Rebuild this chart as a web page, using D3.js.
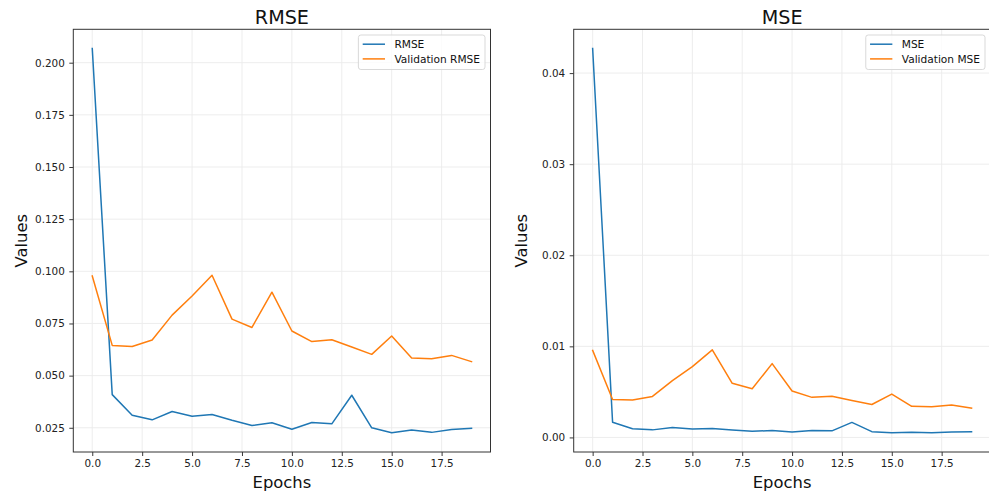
<!DOCTYPE html>
<html>
<head>
<meta charset="utf-8">
<script src="https://cdn.jsdelivr.net/npm/d3@7"></script>
<style>
  html, body { margin: 0; padding: 0; background: #fff; overflow: hidden; }
  svg { display: block; font-family: "DejaVu Sans", sans-serif; }
</style>
</head>
<body>
<svg id="chart" width="989" height="492"></svg>
<script>
const epochs = d3.range(0, 20);

const rmse = [0.2068, 0.0409, 0.0310, 0.0288, 0.0328, 0.0305, 0.0314, 0.0286, 0.0261, 0.0274,
              0.0243, 0.0275, 0.0269, 0.0406, 0.0250, 0.0226, 0.0239, 0.0228, 0.0242, 0.0247];
const valRmse = [0.0978, 0.0645, 0.0640, 0.0671, 0.0790, 0.0882, 0.0981, 0.0771, 0.0731, 0.0900,
                 0.0714, 0.0663, 0.0672, 0.0637, 0.0602, 0.0690, 0.0585, 0.0581, 0.0597, 0.0567];
const mse = [0.0427, 0.00167, 0.00096, 0.00083, 0.00108, 0.00093, 0.00099, 0.00082, 0.00068, 0.00075,
             0.00059, 0.00076, 0.00072, 0.00165, 0.00063, 0.00051, 0.00057, 0.00052, 0.00059, 0.00061];
const valMse = [0.00956, 0.00416, 0.00410, 0.00450, 0.00624, 0.00778, 0.00962, 0.00594, 0.00534, 0.00810,
                0.00510, 0.00440, 0.00452, 0.00406, 0.00362, 0.00476, 0.00342, 0.00338, 0.00356, 0.00321];

const xTicks = [0, 2.5, 5, 7.5, 10, 12.5, 15, 17.5];
const rmseTicks = [0.025, 0.050, 0.075, 0.100, 0.125, 0.150, 0.175, 0.200];
const mseTicks = [0.00, 0.01, 0.02, 0.03, 0.04];

const panels = [
  { title: "RMSE", train: rmse, val: valRmse, labels: ["RMSE", "Validation RMSE"],
    yTicks: rmseTicks, yFmt: ".3f",
    left: 73.3, right: 490.5 },
  { title: "MSE", train: mse, val: valMse, labels: ["MSE", "Validation MSE"],
    yTicks: mseTicks, yFmt: ".2f",
    left: 573.7, right: 990.5 }
];

const colors = ["#1f77b4", "#ff7f0e"];
const plotTop = 29.3, plotBottom = 452;
const svg = d3.select("#chart");

panels.forEach(p => {
  const all = p.train.concat(p.val);
  const mn = d3.min(all), mx = d3.max(all);
  const pad = (mx - mn) * 0.05;
  const y = d3.scaleLinear().domain([mn - pad, mx + pad]).range([plotBottom, plotTop]);
  const x = d3.scaleLinear().domain([-0.95, 19.95]).range([p.left, p.right]);

  const g = svg.append("g");

  // grid
  g.append("g").selectAll("line").data(xTicks).join("line")
    .attr("x1", d => x(d)).attr("x2", d => x(d))
    .attr("y1", plotTop).attr("y2", plotBottom)
    .attr("stroke", "#ebebeb").attr("stroke-width", 0.9);
  g.append("g").selectAll("line").data(p.yTicks).join("line")
    .attr("x1", p.left).attr("x2", p.right)
    .attr("y1", d => y(d)).attr("y2", d => y(d))
    .attr("stroke", "#ebebeb").attr("stroke-width", 0.9);

  // lines
  const line = d3.line().x((d, i) => x(epochs[i])).y(d => y(d));
  [p.train, p.val].forEach((s, k) => {
    g.append("path").datum(s)
      .attr("d", line)
      .attr("fill", "none")
      .attr("stroke", colors[k])
      .attr("stroke-width", 1.5)
      .attr("stroke-linejoin", "round")
      .attr("stroke-linecap", "square");
  });

  // axes
  const xAxis = d3.axisBottom(x).tickValues(xTicks).tickFormat(d3.format(".1f"))
    .tickSize(4).tickPadding(4);
  const yAxis = d3.axisLeft(y).tickValues(p.yTicks).tickFormat(d3.format(p.yFmt))
    .tickSize(4).tickPadding(4.5);

  const gx = g.append("g").attr("transform", `translate(0,${plotBottom})`).call(xAxis);
  const gy = g.append("g").attr("transform", `translate(${p.left},0)`).call(yAxis);
  [gx, gy].forEach(a => {
    a.select(".domain").remove();
    a.selectAll(".tick line").attr("stroke", "#222").attr("stroke-width", 0.9);
    a.selectAll(".tick text").attr("fill", "#222").style("font-size", "10.4px")
      .style("font-family", "DejaVu Sans, sans-serif");
  });

  // spines
  g.append("rect")
    .attr("x", p.left).attr("y", plotTop)
    .attr("width", p.right - p.left).attr("height", plotBottom - plotTop)
    .attr("fill", "none").attr("stroke", "#333").attr("stroke-width", 1);

  // title & labels
  g.append("text").attr("x", (p.left + p.right) / 2).attr("y", 24)
    .attr("text-anchor", "middle").style("font-size", "19.2px").attr("fill", "#111")
    .text(p.title);
  g.append("text").attr("x", (p.left + p.right) / 2).attr("y", 487.5)
    .attr("text-anchor", "middle").style("font-size", "16.4px").attr("fill", "#111")
    .text("Epochs");
  g.append("text")
    .attr("transform", `translate(${p.left - 46.5},${(plotTop + plotBottom) / 2}) rotate(-90)`)
    .attr("text-anchor", "middle").style("font-size", "16.4px").attr("fill", "#111")
    .text("Values");

  // legend
  const lg = g.append("g");
  const rowY = [44.2, 58.9];
  const texts = p.labels.map((t, i) => lg.append("text")
    .attr("y", rowY[i]).attr("dy", "0.35em")
    .style("font-size", "10.6px").attr("fill", "#111").text(t));
  const tw = d3.max(texts, t => t.node().getComputedTextLength());
  const boxW = 36 + tw + 5;
  const bx = p.right - 5.5 - boxW;
  lg.insert("rect", "text")
    .attr("x", bx).attr("y", 35).attr("width", boxW).attr("height", 34.5)
    .attr("rx", 2.5).attr("fill", "#fff").attr("fill-opacity", 0.8)
    .attr("stroke", "#d5d5d5").attr("stroke-width", 0.9);
  texts.forEach(t => t.attr("x", bx + 36));
  p.labels.forEach((t, i) => {
    lg.append("line")
      .attr("x1", bx + 4.3).attr("x2", bx + 26.6)
      .attr("y1", rowY[i]).attr("y2", rowY[i])
      .attr("stroke", colors[i]).attr("stroke-width", 1.5);
  });
});
</script>
</body>
</html>
